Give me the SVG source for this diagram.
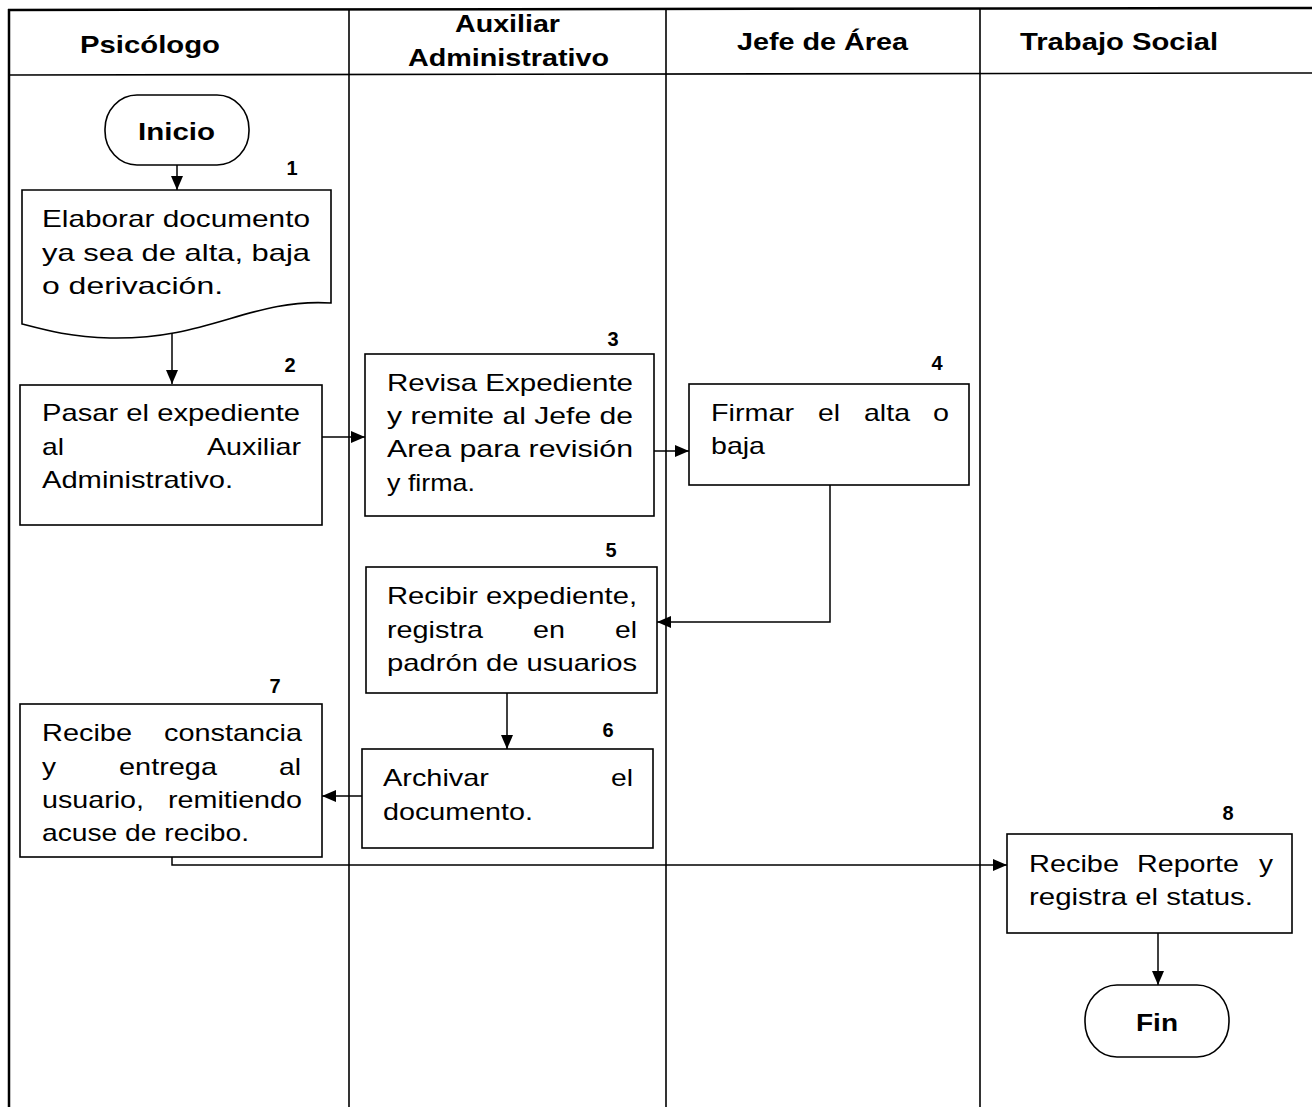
<svg xmlns="http://www.w3.org/2000/svg" width="1312" height="1107" viewBox="0 0 1312 1107">
<style>
.t{font-family:"Liberation Sans",Arial,sans-serif;font-size:24px;fill:#000}
.b{font-weight:bold}
.n{font-family:"Liberation Sans",Arial,sans-serif;font-size:20px;font-weight:bold;fill:#000;text-anchor:middle}
.box{fill:#fff;stroke:#000;stroke-width:1.6}
.lane{stroke:#000;stroke-width:1.6;fill:none}
.con{stroke:#000;stroke-width:1.5;fill:none}
</style>
<defs>
<marker id="ah" viewBox="0 0 14 12" refX="14" refY="6" markerWidth="14" markerHeight="12" markerUnits="userSpaceOnUse" orient="auto">
<path d="M0,0 L14,6 L0,12 Z" fill="#000"/>
</marker>
</defs>
<rect width="1312" height="1107" fill="#fff"/>
<g id="lanes">
<line class="lane" x1="8" y1="10" x2="1312" y2="8" style="stroke-width:2.5"/>
<line class="lane" x1="8" y1="75" x2="1312" y2="73"/>
<line class="lane" x1="9" y1="9" x2="9" y2="1107" style="stroke-width:2.5"/>
<line class="lane" x1="349" y1="10" x2="349" y2="1107"/>
<line class="lane" x1="666" y1="10" x2="666" y2="1107"/>
<line class="lane" x1="980" y1="9" x2="980" y2="1107"/>
</g>
<g id="headers">
<text class="t b" x="80" y="53" textLength="140" lengthAdjust="spacingAndGlyphs">Psicólogo</text>
<text class="t b" x="455" y="32" textLength="105" lengthAdjust="spacingAndGlyphs">Auxiliar</text>
<text class="t b" x="408" y="66" textLength="201" lengthAdjust="spacingAndGlyphs">Administrativo</text>
<text class="t b" x="737" y="50" textLength="171" lengthAdjust="spacingAndGlyphs">Jefe de Área</text>
<text class="t b" x="1020" y="50" textLength="198" lengthAdjust="spacingAndGlyphs">Trabajo Social</text>
</g>
<g id="connectors">
<line class="con" x1="177" y1="165" x2="177" y2="190" marker-end="url(#ah)"/>
<line class="con" x1="172" y1="332" x2="172" y2="384" marker-end="url(#ah)"/>
<line class="con" x1="322" y1="437" x2="365" y2="437" marker-end="url(#ah)"/>
<line class="con" x1="654" y1="451" x2="689" y2="451" marker-end="url(#ah)"/>
<polyline class="con" points="830,485 830,622 657,622" marker-end="url(#ah)"/>
<line class="con" x1="507" y1="693" x2="507" y2="749" marker-end="url(#ah)"/>
<line class="con" x1="362" y1="796" x2="322" y2="796" marker-end="url(#ah)"/>
<polyline class="con" points="172,857 172,865 1007,865" marker-end="url(#ah)"/>
<line class="con" x1="1158" y1="933" x2="1158" y2="985" marker-end="url(#ah)"/>
</g>
<g id="inicio">
<rect class="box" x="105" y="95" width="144" height="70" rx="32" ry="34"/>
<text class="t b" x="138" y="140" textLength="77" lengthAdjust="spacingAndGlyphs">Inicio</text>
</g>
<g id="step1">
<text class="n" x="292" y="175">1</text>
<path class="box" d="M22,190 H331 V303 C250,298 210,340 110,338 C70,337 45,330 22,324 Z"/>
<text class="t" x="42" y="227" textLength="268" lengthAdjust="spacingAndGlyphs">Elaborar documento</text>
<text class="t" x="42" y="261" textLength="268" lengthAdjust="spacingAndGlyphs">ya sea de alta, baja</text>
<text class="t" x="42" y="294" textLength="181" lengthAdjust="spacingAndGlyphs">o derivación.</text>
</g>
<g id="step2">
<text class="n" x="290" y="372">2</text>
<rect class="box" x="20" y="385" width="302" height="140"/>
<text class="t" x="42" y="421" textLength="258" lengthAdjust="spacingAndGlyphs">Pasar el expediente</text>
<text class="t" x="42" y="455" textLength="22" lengthAdjust="spacingAndGlyphs">al</text>
<text class="t" x="207" y="455" textLength="94" lengthAdjust="spacingAndGlyphs">Auxiliar</text>
<text class="t" x="42" y="488" textLength="191" lengthAdjust="spacingAndGlyphs">Administrativo.</text>
</g>
<g id="step3">
<text class="n" x="613" y="346">3</text>
<rect class="box" x="365" y="354" width="289" height="162"/>
<text class="t" x="387" y="391" textLength="246" lengthAdjust="spacingAndGlyphs">Revisa Expediente</text>
<text class="t" x="387" y="424" textLength="246" lengthAdjust="spacingAndGlyphs">y remite al Jefe de</text>
<text class="t" x="387" y="457" textLength="246" lengthAdjust="spacingAndGlyphs">Area para revisión</text>
<text class="t" x="387" y="491" textLength="88" lengthAdjust="spacingAndGlyphs">y firma.</text>
</g>
<g id="step4">
<text class="n" x="937" y="370">4</text>
<rect class="box" x="689" y="384" width="280" height="101"/>
<text class="t" x="711" y="421" textLength="83" lengthAdjust="spacingAndGlyphs">Firmar</text>
<text class="t" x="818" y="421" textLength="22" lengthAdjust="spacingAndGlyphs">el</text>
<text class="t" x="864" y="421" textLength="46" lengthAdjust="spacingAndGlyphs">alta</text>
<text class="t" x="933" y="421" textLength="16" lengthAdjust="spacingAndGlyphs">o</text>
<text class="t" x="711" y="454" textLength="54" lengthAdjust="spacingAndGlyphs">baja</text>
</g>
<g id="step5">
<text class="n" x="611" y="557">5</text>
<rect class="box" x="366" y="567" width="291" height="126"/>
<text class="t" x="387" y="604" textLength="250" lengthAdjust="spacingAndGlyphs">Recibir expediente,</text>
<text class="t" x="387" y="638" textLength="96" lengthAdjust="spacingAndGlyphs">registra</text>
<text class="t" x="533" y="638" textLength="32" lengthAdjust="spacingAndGlyphs">en</text>
<text class="t" x="615" y="638" textLength="22" lengthAdjust="spacingAndGlyphs">el</text>
<text class="t" x="387" y="671" textLength="250" lengthAdjust="spacingAndGlyphs">padrón de usuarios</text>
</g>
<g id="step6">
<text class="n" x="608" y="737">6</text>
<rect class="box" x="362" y="749" width="291" height="99"/>
<text class="t" x="383" y="786" textLength="106" lengthAdjust="spacingAndGlyphs">Archivar</text>
<text class="t" x="611" y="786" textLength="22" lengthAdjust="spacingAndGlyphs">el</text>
<text class="t" x="383" y="820" textLength="150" lengthAdjust="spacingAndGlyphs">documento.</text>
</g>
<g id="step7">
<text class="n" x="275" y="693">7</text>
<rect class="box" x="20" y="704" width="302" height="153"/>
<text class="t" x="42" y="741" textLength="90" lengthAdjust="spacingAndGlyphs">Recibe</text>
<text class="t" x="164" y="741" textLength="138" lengthAdjust="spacingAndGlyphs">constancia</text>
<text class="t" x="42" y="775" textLength="14" lengthAdjust="spacingAndGlyphs">y</text>
<text class="t" x="119" y="775" textLength="98" lengthAdjust="spacingAndGlyphs">entrega</text>
<text class="t" x="279" y="775" textLength="22" lengthAdjust="spacingAndGlyphs">al</text>
<text class="t" x="42" y="808" textLength="102" lengthAdjust="spacingAndGlyphs">usuario,</text>
<text class="t" x="168" y="808" textLength="134" lengthAdjust="spacingAndGlyphs">remitiendo</text>
<text class="t" x="42" y="841" textLength="207" lengthAdjust="spacingAndGlyphs">acuse de recibo.</text>
</g>
<g id="step8">
<text class="n" x="1228" y="820">8</text>
<rect class="box" x="1007" y="834" width="285" height="99"/>
<text class="t" x="1029" y="872" textLength="90" lengthAdjust="spacingAndGlyphs">Recibe</text>
<text class="t" x="1137" y="872" textLength="102" lengthAdjust="spacingAndGlyphs">Reporte</text>
<text class="t" x="1259" y="872" textLength="14" lengthAdjust="spacingAndGlyphs">y</text>
<text class="t" x="1029" y="905" textLength="224" lengthAdjust="spacingAndGlyphs">registra el status.</text>
</g>
<g id="fin">
<rect class="box" x="1085" y="985" width="144" height="72" rx="32" ry="35"/>
<text class="t b" x="1136" y="1031" textLength="42" lengthAdjust="spacingAndGlyphs">Fin</text>
</g>
</svg>
